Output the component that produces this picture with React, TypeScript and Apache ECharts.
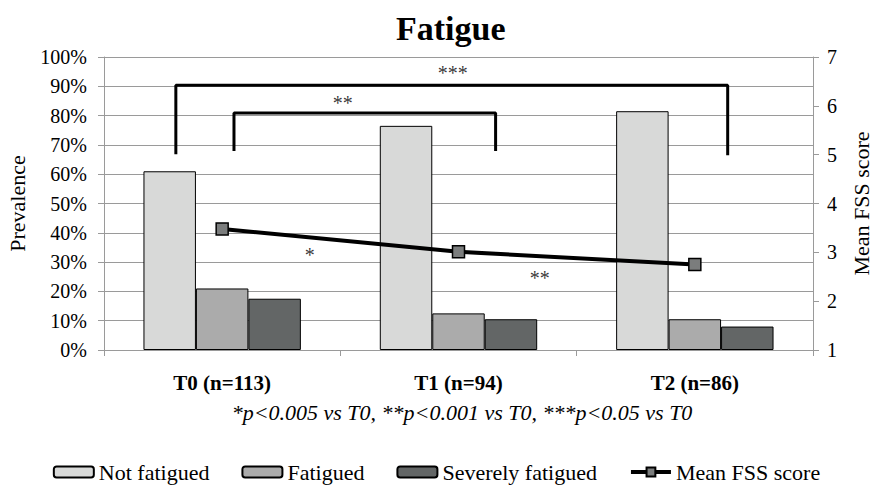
import React, { useEffect, useRef } from "react";
import * as echarts from "echarts";

const categories = ["T0 (n=113)", "T1 (n=94)", "T2 (n=86)"];
const notFatigued = [61, 76.5, 81.5];
const fatigued = [21, 12.5, 10.5];
const severelyFatigued = [17.5, 10.5, 8];
const meanFss = [3.48, 3.01, 2.75];
const leftTicks = { min: 0, max: 100, interval: 10 };
const rightTicks = { min: 1, max: 7, interval: 1 };
// significance brackets, in (category position, prevalence %) units
const bracketOuter = [[0.304, 66.8], [0.304, 90.4], [2.639, 90.4], [2.639, 66.5]];
const bracketInner = [[0.55, 67.9], [0.55, 80.9], [1.657, 80.9], [1.657, 67.9]];
const starLabels = [
  { name: "***", value: [1.476, 94.6] },
  { name: "**", value: [1.01, 84.4] },
  { name: "*", value: [0.871, 32.5] },
  { name: "**", value: [1.844, 24.6] },
];
const footnote = "*p<0.005 vs T0, **p<0.001 vs T0, ***p<0.05 vs T0";

const FONT = "Liberation Serif";

export default function App() {
  const ref = useRef<HTMLDivElement>(null);
  useEffect(() => {
    const chart = echarts.init(ref.current!, null, { renderer: "svg" });
    const gridColor = "#9a9a9a";
    chart.setOption({
      animation: false,
      textStyle: { fontFamily: FONT, color: "#000" },
      title: [
        {
          text: "Fatigue",
          left: 391,
          top: 6,
          textStyle: { fontFamily: FONT, fontSize: 34, fontWeight: "bold", color: "#000" },
        },
        {
          text: footnote,
          left: 457,
          top: 396,
          textAlign: "center",
          textStyle: { fontFamily: FONT, fontSize: 22, fontStyle: "italic", fontWeight: "normal", color: "#000" },
        },
      ],
      legend: {
        data: ["Not fatigued", "Fatigued", "Severely fatigued", "Mean FSS score"],
        left: "center",
        top: 456,
        itemWidth: 40,
        itemHeight: 11,
        itemGap: 32,
        lineStyle: { width: 4, color: "#000" },
        textStyle: { fontFamily: FONT, fontSize: 22, color: "#000" },
      },
      grid: { left: 104, right: 60, top: 57, bottom: 135, outerBoundsMode: "none", containLabel: false },
      xAxis: [
        {
          type: "category",
          data: categories,
          axisLine: { lineStyle: { color: gridColor } },
          axisTick: { show: true, length: 6, lineStyle: { color: gridColor } },
          axisLabel: { fontFamily: FONT, fontSize: 21, fontWeight: "bold", color: "#000", margin: 22 },
        },
        { type: "value", min: 0, max: 3, show: false },
      ],
      yAxis: [
        {
          type: "value",
          ...leftTicks,
          name: "Prevalence",
          nameLocation: "middle",
          nameRotate: 90,
          nameGap: 76,
          nameTextStyle: { fontFamily: FONT, fontSize: 22, color: "#000" },
          axisLine: { show: true, lineStyle: { color: gridColor } },
          axisTick: { show: true, length: 6, lineStyle: { color: gridColor } },
          axisLabel: { formatter: "{value}%", fontFamily: FONT, fontSize: 20, color: "#000", margin: 17 },
          splitLine: { show: true, lineStyle: { color: gridColor, width: 1 } },
        },
        {
          type: "value",
          ...rightTicks,
          position: "right",
          name: "Mean FSS score",
          nameLocation: "middle",
          nameRotate: 90,
          nameGap: 37,
          nameTextStyle: { fontFamily: FONT, fontSize: 22, color: "#000" },
          axisLine: { show: true, lineStyle: { color: gridColor } },
          axisTick: { show: true, length: 6, lineStyle: { color: gridColor } },
          axisLabel: { fontFamily: FONT, fontSize: 20, color: "#000", margin: 14 },
          splitLine: { show: false },
        },
      ],
      series: [
        {
          name: "Not fatigued",
          type: "bar",
          data: notFatigued,
          barGap: "0%",
          barCategoryGap: "33.4%",
          itemStyle: { color: "#d8d9d8", borderColor: "#000", borderWidth: 1 },
        },
        {
          name: "Fatigued",
          type: "bar",
          data: fatigued,
          itemStyle: { color: "#ababab", borderColor: "#000", borderWidth: 1 },
        },
        {
          name: "Severely fatigued",
          type: "bar",
          data: severelyFatigued,
          itemStyle: { color: "#636666", borderColor: "#000", borderWidth: 1 },
        },
        {
          name: "Mean FSS score",
          type: "line",
          yAxisIndex: 1,
          data: meanFss,
          symbol: "rect",
          symbolSize: 12,
          lineStyle: { color: "#000", width: 4 },
          itemStyle: { color: "#7b7d7d", borderColor: "#000", borderWidth: 1.5 },
          z: 5,
        },
        {
          name: "bracketOuter",
          type: "line",
          xAxisIndex: 1,
          yAxisIndex: 0,
          data: bracketOuter,
          symbol: "none",
          silent: true,
          lineStyle: { color: "#000", width: 3 },
          z: 4,
        },
        {
          name: "bracketInner",
          type: "line",
          xAxisIndex: 1,
          yAxisIndex: 0,
          data: bracketInner,
          symbol: "none",
          silent: true,
          lineStyle: { color: "#000", width: 3 },
          z: 4,
        },
        {
          name: "stars",
          type: "scatter",
          xAxisIndex: 1,
          yAxisIndex: 0,
          data: starLabels,
          symbolSize: 0,
          silent: true,
          itemStyle: { color: "#000" },
          label: {
            show: true,
            position: "inside",
            formatter: "{b}",
            fontFamily: FONT,
            fontSize: 20,
            color: "#000",
            textBorderWidth: 0,
            textBorderColor: "transparent",
          },
          z: 6,
        },
      ],
    });
    return () => chart.dispose();
  }, []);
  return (
    <div
      ref={ref}
      style={{ position: "fixed", left: 0, top: 0, width: 873, height: 485, background: "#fff" }}
    />
  );
}
